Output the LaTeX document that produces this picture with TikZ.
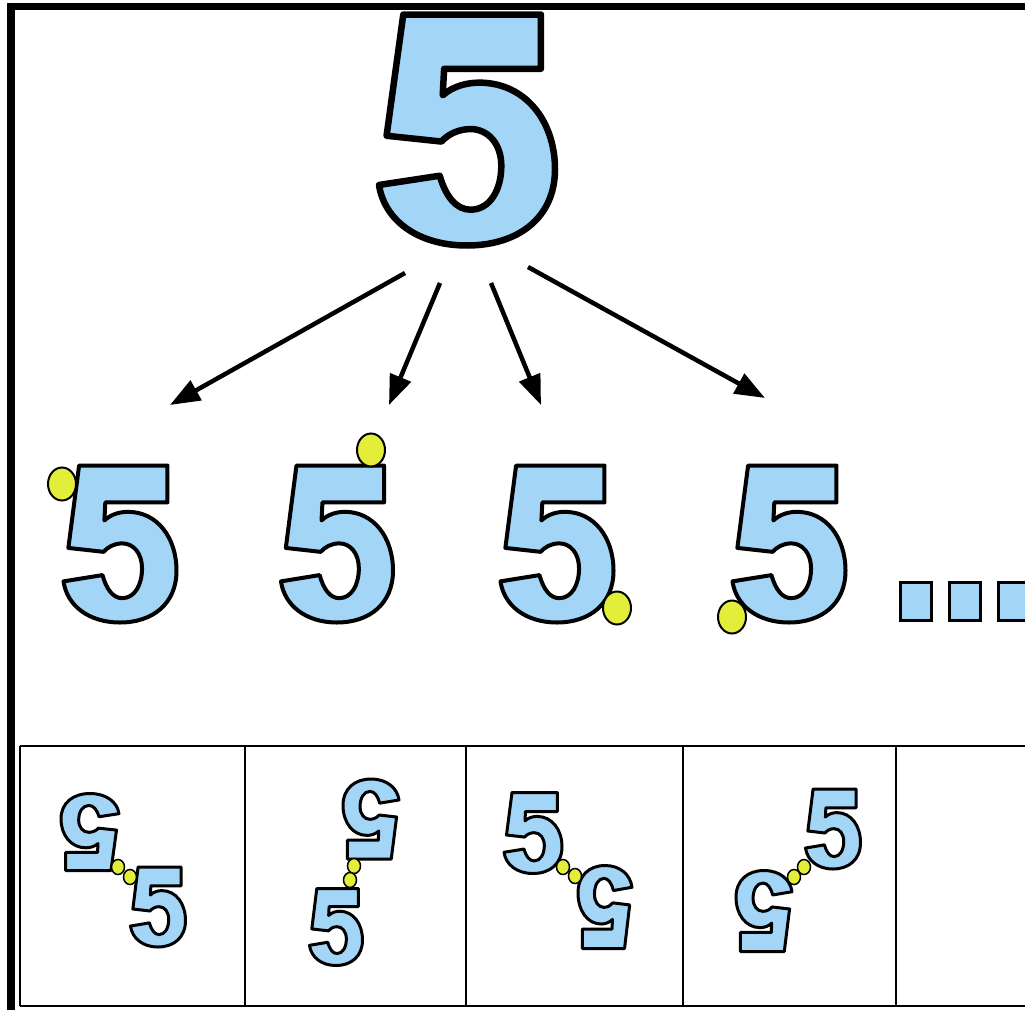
\documentclass[tikz,border=0pt]{standalone}
\usetikzlibrary{arrows.meta}
\definecolor{fiveblue}{HTML}{A3D5F7}
\definecolor{dotyellow}{HTML}{E3EE3B}
\tikzset{
  five/.pic={\path[draw=black,fill=fiveblue,line join=round]
    (-0.362,-0.5) -- (0.42,-0.5) -- (0.42,-0.265) -- (-0.13,-0.265) -- (-0.138,-0.15)
    .. controls (-0.08,-0.19) and (0.0,-0.205) .. (0.07,-0.205)
    .. controls (0.33,-0.205) and (0.5,-0.04) .. (0.5,0.17)
    .. controls (0.5,0.38) and (0.29,0.5) .. (0.0,0.5)
    .. controls (-0.28,0.5) and (-0.47,0.39) .. (-0.5,0.238)
    -- (-0.155,0.198)
    .. controls (-0.12,0.29) and (-0.06,0.345) .. (0.02,0.345)
    .. controls (0.13,0.345) and (0.195,0.26) .. (0.195,0.155)
    .. controls (0.195,0.06) and (0.12,-0.004) .. (0.02,-0.004)
    .. controls (-0.05,-0.004) and (-0.11,0.02) .. (-0.145,0.05)
    -- (-0.457,0.025) -- cycle;},
  yelldot/.style={draw=black,fill=dotyellow,line width=2pt},
  smalldot/.style={draw=black,fill=dotyellow,line width=1.5pt},
  arr/.style={line width=4.5pt,-{Triangle[length=30pt,width=22pt]}},
  cellline/.style={line width=2pt},
  bluesq/.style={draw=black,fill=fiveblue,line width=3.5pt},
}
\begin{document}
\begin{tikzpicture}[x=1pt,y=-1pt]
\useasboundingbox (0,0) rectangle (1025,1009);
\clip (0,0) rectangle (1025,1009);
\fill[white] (0,0) rectangle (1025,1009);

% table
\draw[cellline] (20,746) -- (1030,746);
\draw[cellline] (20,1006) -- (1030,1006);
\foreach \xx in {20,245,466,683,896}{\draw[cellline] (\xx,746) -- (\xx,1006);}

% big five
\pic[line width=6.5pt,xscale=176,yscale=231] at (467,130) {five};

% frame
\draw[line width=7.5pt] (11,1015) -- (11,6.5) -- (1030,6.5);

% arrows
\coordinate (s1) at (405,273); \coordinate (e1) at (170,405);
\coordinate (s2) at (440,283); \coordinate (e2) at (389,405);
\coordinate (s3) at (491,283); \coordinate (e3) at (541,405);
\coordinate (s4) at (528,267); \coordinate (e4) at (765,398);
\draw[arr] (s1) -- (e1);
\draw[arr] (s2) -- (e2);
\draw[arr] (s3) -- (e3);
\draw[arr] (s4) -- (e4);

% middle row
\pic[line width=4pt,xscale=113,yscale=157] at (120,544) {five};
\pic[line width=4pt,xscale=112,yscale=157] at (337,544) {five};
\pic[line width=4pt,xscale=113,yscale=157] at (557,544) {five};
\pic[line width=4pt,xscale=113,yscale=157] at (789,544) {five};
\draw[yelldot] (62,484) ellipse [x radius=14, y radius=16.5];
\draw[yelldot] (371,450) ellipse [x radius=14, y radius=16.5];
\draw[yelldot] (617,608) ellipse [x radius=14, y radius=16.5];
\draw[yelldot] (732,617) ellipse [x radius=14, y radius=16.5];
\draw[bluesq] (900.5,582.5) rectangle (931.5,620.5);
\draw[bluesq] (949.5,582.5) rectangle (980.5,620.5);
\draw[bluesq] (998.5,582.5) rectangle (1029.5,620.5);

% bottom row cell 1
\pic[line width=3pt,xscale=-58,yscale=-77] at (90,832) {five};
\pic[line width=3pt,xscale=55,yscale=80] at (158,907) {five};
\draw[smalldot] (118,867) ellipse [x radius=6.5, y radius=7.5];
\draw[smalldot] (130,877) ellipse [x radius=6.5, y radius=7.5];
% cell 2
\pic[line width=3pt,xscale=-56,yscale=-80] at (371,819) {five};
\pic[line width=3pt,xscale=53,yscale=77] at (336,927) {five};
\draw[smalldot] (354,866) ellipse [x radius=6.5, y radius=7.5];
\draw[smalldot] (350,880) ellipse [x radius=6.5, y radius=7.5];
% cell 3
\pic[line width=3pt,xscale=58,yscale=81] at (533,833) {five};
\pic[line width=3pt,xscale=-54,yscale=-83] at (605,907) {five};
\draw[smalldot] (563,867) ellipse [x radius=6.5, y radius=7.5];
\draw[smalldot] (575,876) ellipse [x radius=6.5, y radius=7.5];
% cell 4
\pic[line width=3pt,xscale=55,yscale=80] at (833,829) {five};
\pic[line width=3pt,xscale=-56,yscale=-81] at (764,911) {five};
\draw[smalldot] (804,867) ellipse [x radius=6.5, y radius=7.5];
\draw[smalldot] (794,877) ellipse [x radius=6.5, y radius=7.5];
\end{tikzpicture}
\end{document}
